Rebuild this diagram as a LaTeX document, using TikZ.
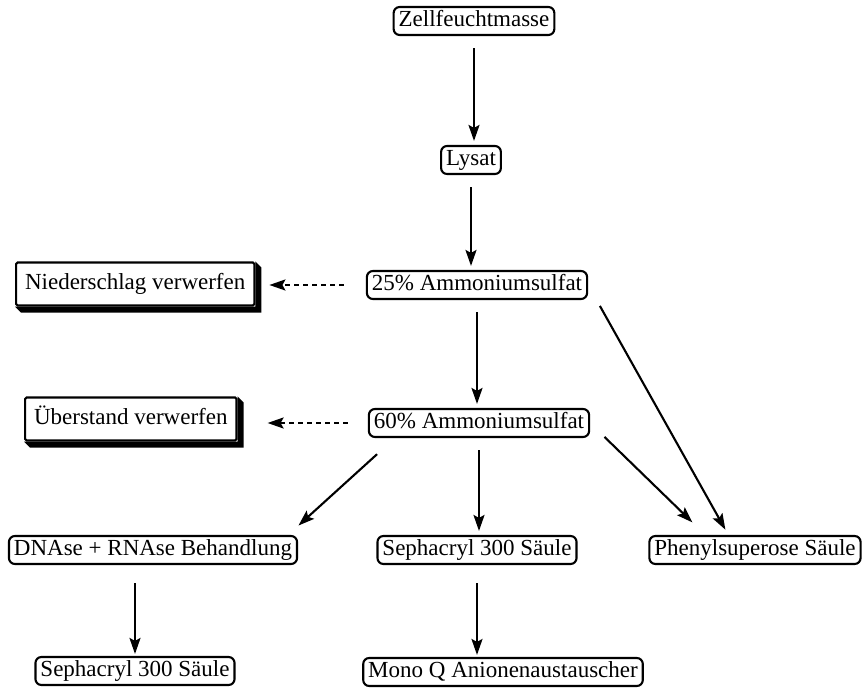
\documentclass[tikz,border=0pt]{standalone}
\usepackage{fontspec}
\setmainfont{Liberation Serif}
\usetikzlibrary{calc,arrows.meta}

\begin{document}
\begin{tikzpicture}[x=1pt,y=-1pt,line width=2.1pt,
  stufe/.style={draw,rounded corners=6pt,inner xsep=5pt,inner ysep=3pt,font=\fontsize{23}{27}\selectfont,text height=16.5pt,text depth=5.5pt},
  verwurf/.style={draw,rounded corners=1.5pt,inner xsep=9pt,minimum height=43pt,font=\fontsize{23}{27}\selectfont,text height=16.5pt,text depth=5.5pt},
  pfeil/.style={-{Stealth[length=16pt,width=11pt,inset=3pt]}},
  strich/.style={pfeil,dash pattern=on 5pt off 4pt}]
\useasboundingbox (0,0) rectangle (865,692);
% Hauptweg
\node[stufe] (zell) at (474,21) {Zellfeuchtmasse};
\node[stufe] (lysat) at (471,160) {Lysat};
\node[stufe] (am25) at (477,285) {25\% Ammoniumsulfat};
\node[stufe] (am60) at (479,423) {60\% Ammoniumsulfat};
% verworfene Fraktionen
\node[verwurf,anchor=west] (nieder) at (15,284) {Niederschlag verwerfen};
\node[verwurf,anchor=west] (ueber) at (24,419) {Überstand verwerfen};
\foreach \n in {nieder,ueber}
  \fill (\n.north east) -- ++(6,6) -- ($(\n.south east)+(6,6)$) -- ($(\n.south west)+(6,6)$) -- (\n.south west) -- (\n.south east) -- cycle;
% Saeulen
\node[stufe] (dnase) at (153,550) {DNAse + RNAse Behandlung};
\node[stufe] (seph1) at (477,550) {Sephacryl 300 Säule};
\node[stufe] (phenyl) at (755,550) {Phenylsuperose Säule};
\node[stufe] (seph2) at (135,671) {Sephacryl 300 Säule};
\node[stufe] (monoq) at (503,672) {Mono Q Anionenaustauscher};

\draw[pfeil,shorten <=12pt,shorten >=4pt] (zell) -- (zell |- lysat.north);
\draw[pfeil,shorten <=12pt,shorten >=4pt] (lysat) -- (lysat |- am25.north);
\draw[pfeil,shorten <=12pt,shorten >=4pt] (am25) -- (am25 |- am60.north);
\draw[strich,shorten <=22pt,shorten >=14pt] (am25.west) -- (am25.west -| nieder.east);
\draw[strich,shorten <=20pt,shorten >=30pt] (am60.west) -- (am60.west -| ueber.east);
\draw[pfeil,shorten <=24pt,shorten >=14pt] ([xshift=27pt]am60.south west) -- ([xshift=-10pt]dnase.north east);
\draw[pfeil,shorten <=12pt,shorten >=4pt] (am60) -- (am60 |- seph1.north);
\draw[pfeil,shorten <=20pt,shorten >=18pt] (am60.east) -- ([xshift=57pt]phenyl.north west);
\draw[pfeil,shorten <=24pt,shorten >=6pt] (am25.east) -- ([xshift=80pt]phenyl.north west);
\draw[pfeil,shorten <=18pt,shorten >=2pt] (seph2 |- dnase.south) -- (seph2);
\draw[pfeil,shorten <=18pt,shorten >=2pt] (seph1.south) -- (seph1 |- monoq.north);
\end{tikzpicture}
\end{document}
